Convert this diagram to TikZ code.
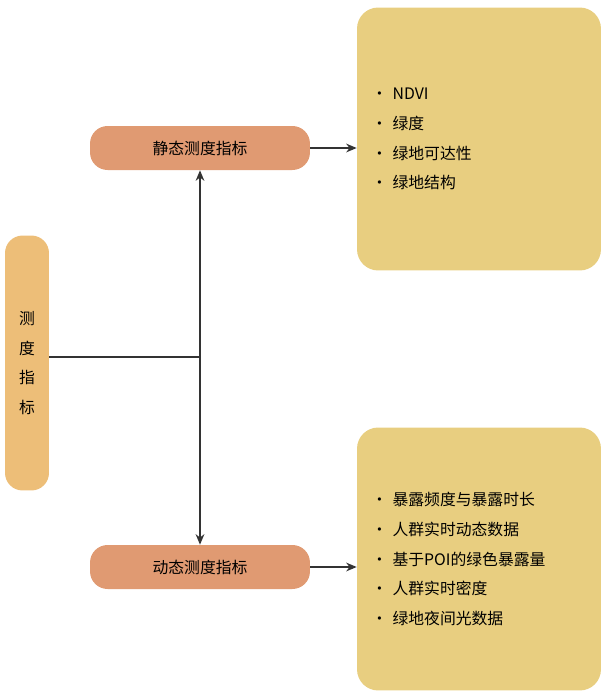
\documentclass[tikz,border=0pt]{standalone}
\usepackage{fontspec}
\setmainfont{Noto Sans CJK SC}
\usetikzlibrary{arrows.meta}
\definecolor{rootc}{HTML}{EDBE78}
\definecolor{catc}{HTML}{E09A72}
\definecolor{listc}{HTML}{E8CE80}
\tikzset{
  catbox/.style={rectangle, rounded corners=10pt, fill=catc, minimum width=4.4cm, minimum height=0.88cm, font=\fontsize{9}{11}\selectfont},
  listbox/.style={rectangle, rounded corners=12pt, fill=listc, minimum width=4.88cm, minimum height=5.26cm, align=left, text width=4.3cm, font=\fontsize{9}{17}\selectfont},
  link/.style={draw=black!80, line width=0.6pt, -{Stealth[length=6pt,width=5pt]}}
}
\begin{document}
\begin{tikzpicture}[x=0.02cm, y=-0.02cm]
  \useasboundingbox (0,0) rectangle (609,697);
  % Nodes
  \node (root) [rectangle, rounded corners=10pt, fill=rootc, minimum width=0.88cm, minimum height=5.1cm, align=center, font=\fontsize{9}{17}\selectfont] at (27,363) {测\\度\\指\\标};
  \node (static) [catbox] at (200,148) {静态测度指标};
  \node (dynamic) [catbox] at (200,567) {动态测度指标};
  \node (static-list) [listbox] at (479,139) {· NDVI\\· 绿度\\· 绿地可达性\\· 绿地结构};
  \node (dynamic-list) [listbox] at (479,559) {· 暴露频度与暴露时长\\· 人群实时动态数据\\· 基于POI的绿色暴露量\\· 人群实时密度\\· 绿地夜间光数据};
  \coordinate (fork) at (200,357);
  % Arrows
  \draw [draw=black!80, line width=0.6pt] (root.east |- fork) -- (fork);
  \draw [link] (fork) -- (static.south);
  \draw [link] (fork) -- (dynamic.north);
  \draw [link] (static) -- (static-list.west |- static);
  \draw [link] (dynamic) -- (dynamic-list.west |- dynamic);
\end{tikzpicture}
\end{document}
